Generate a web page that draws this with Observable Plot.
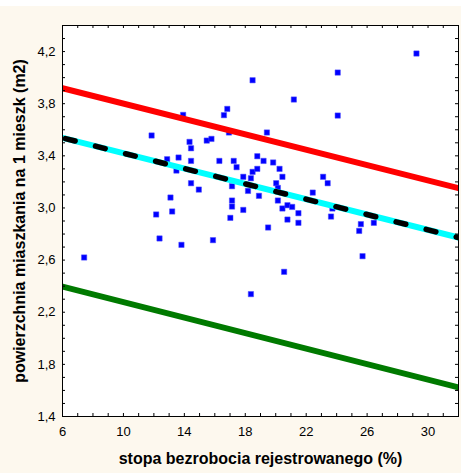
<!DOCTYPE html>
<html>
<head>
<meta charset="utf-8">
<script src="https://cdn.jsdelivr.net/npm/d3@7"></script>
<script src="https://cdn.jsdelivr.net/npm/@observablehq/plot@0.6"></script>
<style>
  html, body { margin: 0; padding: 0; background: #ffffff; }
  #chart svg { display: block; margin-top: 6px; }
</style>
</head>
<body>
<div id="chart"></div>
<script>
// Unemployment rate (%) vs. dwelling area per inhabitant (m2)
const unemployment = [7.42, 11.85, 12.15, 12.37, 12.87, 13.09, 13.2, 13.48, 13.62, 13.81,
  13.92, 14.34, 14.44, 14.44, 14.44, 14.95, 15.47, 15.78, 15.88, 16.3,
  16.6, 16.82, 16.93, 17.02, 17.13, 17.13, 17.13, 17.24, 17.43, 17.87,
  17.87, 18.18, 18.37, 18.37, 18.48, 18.48, 18.79, 18.79, 18.9, 19.2,
  19.42, 19.5, 19.83, 20.03, 20.14, 20.14, 20.25, 20.44, 20.44, 20.55,
  20.77, 20.77, 21.08, 21.19, 21.49, 21.49, 22.43, 23.11, 23.41, 23.63,
  23.72, 24.07, 24.07, 25.48, 25.59, 25.7, 26.44, 29.24];
const area = [2.62, 3.556, 2.95, 2.766, 3.374, 3.08, 2.973, 3.287, 3.387, 2.717,
  3.714, 3.507, 3.458, 3.361, 3.19, 3.141, 3.517, 3.53, 2.753, 3.361,
  3.712, 3.76, 3.579, 2.924, 3.167, 3.057, 3.011, 3.361, 3.313, 3.239,
  2.985, 3.131, 3.228, 2.339, 3.98, 3.277, 3.397, 3.3, 3.093, 3.361,
  3.579, 2.85, 3.349, 3.19, 3.154, 3.057, 3.3, 3.239, 2.996, 2.51,
  3.021, 2.911, 3.008, 3.832, 2.96, 2.886, 3.118, 3.239, 3.19, 2.934,
  2.996, 4.039, 3.709, 2.824, 2.876, 2.63, 2.886, 4.185];

// Fitted line and prediction band limits at the ends of the x range
const lineX = [6, 32];
const upperY = [3.919, 3.152];
const fitY = [3.538, 2.773];
const lowerY = [2.397, 1.623];

const xTickLabels = [6, 10, 14, 18, 22, 26, 30];
const yTickLabels = [1.4, 1.8, 2.2, 2.6, 3.0, 3.4, 3.8, 4.2];
const xMinorTicks = d3.range(6, 33, 1);
const yMinorTicks = d3.range(14, 45, 1).map(v => v / 10);

const xTitle = "stopa bezrobocia rejestrowanego (%)";
const yTitle = "powierzchnia miaszkania na 1 mieszk (m2)";

const points = unemployment.map((x, i) => ({x, y: area[i]}));
const mk = ys => lineX.map((x, i) => ({x, y: ys[i]}));

const W = 461, H = 467;
const M = {top: 19, right: 3, bottom: 57, left: 62};
const innerW = W - M.left - M.right;
const innerH = H - M.top - M.bottom;
const T = 3;
const fmt = d => d.toFixed(1).replace(".", ",");

const chart = Plot.plot({
  width: W,
  height: H,
  marginTop: M.top,
  marginRight: M.right,
  marginBottom: M.bottom,
  marginLeft: M.left,
  style: {background: "#fdf8ee", fontFamily: "'Liberation Sans', Arial, sans-serif", fontSize: "13px", color: "#000"},
  x: {domain: [6, 32]},
  y: {domain: [1.4, 4.4]},
  marks: [
    Plot.frame({fill: "#ffffff", stroke: null}),
    Plot.dot(points, {x: "x", y: "y", symbol: "square", r: 3, fill: "#0000ff", stroke: "#4d4dff", strokeWidth: 0.5}),
    Plot.line(mk(lowerY), {x: "x", y: "y", stroke: "#007a00", strokeWidth: 6, clip: true}),
    Plot.line(mk(upperY), {x: "x", y: "y", stroke: "#ff0000", strokeWidth: 6, clip: true}),
    Plot.line(mk(fitY), {x: "x", y: "y", stroke: "#00ffff", strokeWidth: 6, clip: true}),
    Plot.line(mk(fitY), {x: "x", y: "y", stroke: "#000000", strokeWidth: 5.5, strokeDasharray: "10,21", strokeDashoffset: -3, strokeLinecap: "round", clip: true}),
    // inward minor ticks on all four sides
    Plot.tickX(xMinorTicks, {x: d => d, stroke: "#000", insetTop: innerH - T}),
    Plot.tickX(xMinorTicks, {x: d => d, stroke: "#000", insetBottom: innerH - T}),
    Plot.tickY(yMinorTicks, {y: d => d, stroke: "#000", insetRight: innerW - T}),
    Plot.tickY(yMinorTicks, {y: d => d, stroke: "#000", insetLeft: innerW - T}),
    Plot.frame({stroke: "#000", strokeWidth: 1}),
    Plot.axisX({ticks: xTickLabels, tickSize: 0, tickPadding: 10, tickFormat: d => String(d), label: null, fontSize: 13}),
    Plot.axisY({ticks: yTickLabels, tickSize: 0, tickPadding: 7, tickFormat: fmt, label: null, fontSize: 13}),
    Plot.text([xTitle], {text: d => d, frameAnchor: "bottom", textAnchor: "middle", dy: 47, fontWeight: "bold", fontSize: 16, fill: "#000"}),
    Plot.text([yTitle], {text: d => d, frameAnchor: "left", textAnchor: "middle", rotate: -90, dx: -43, fontWeight: "bold", fontSize: 16, fill: "#000"})
  ]
});
document.getElementById("chart").appendChild(chart);
</script>
</body>
</html>
